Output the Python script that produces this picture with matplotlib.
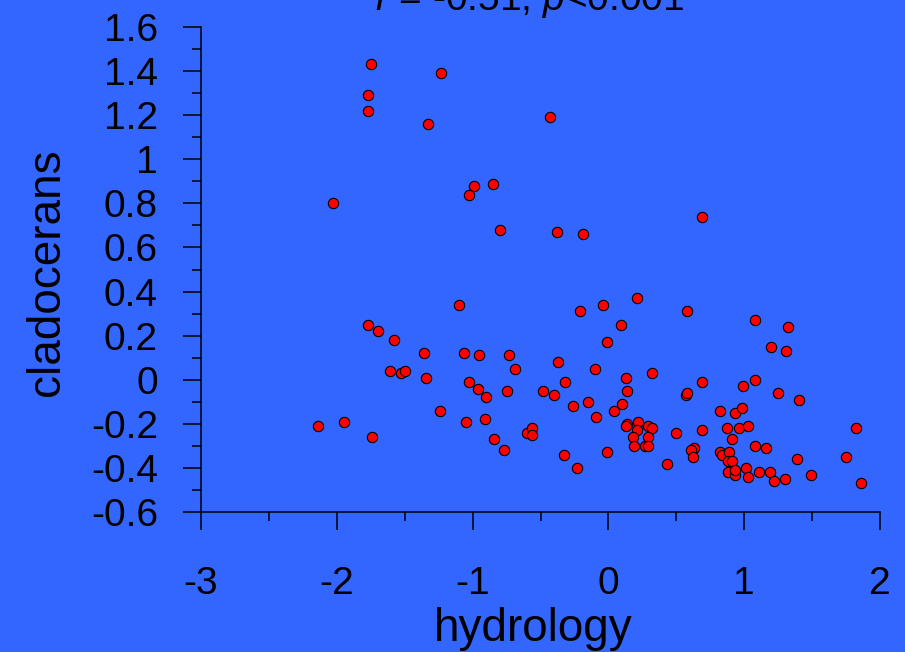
import numpy as np
import matplotlib
matplotlib.use("Agg")
import matplotlib.pyplot as plt
from matplotlib.ticker import MultipleLocator

plt.rcParams["font.family"] = ["Liberation Sans", "DejaVu Sans"]
plt.rcParams["mathtext.fontset"] = "custom"
plt.rcParams["mathtext.it"] = "Liberation Sans:italic"
plt.rcParams["mathtext.rm"] = "Liberation Sans"
plt.rcParams["axes.unicode_minus"] = False

# hydrology score vs cladoceran score
hydrology = [
    -1.75, -1.23, -1.77, -1.77, -1.33, -0.43, -0.99, -1.03, -0.85, -2.03,
    -0.80, -0.38, -0.19, 0.69,
    -1.10, -1.77, -1.70, -1.58, -1.36, -1.06, -0.95, -0.73, -0.69, -1.61,
    -1.53, -1.50, -1.34, -1.03, -0.96, -0.90, -0.75, -1.24, -1.05, -0.91,
    -2.14, -1.95, -1.74, -0.84, -0.77, -0.60, -0.56, -0.56, -0.48, -0.40,
    -0.37, -0.32, -0.26, -0.15, -0.10, -0.21, -0.04, 0.09, -0.01, -0.09,
    0.04, 0.10, -0.33, -0.23, -0.01, 0.13, 0.14, 0.14,
    0.21, 0.58, 1.08, 1.32, 1.20, 1.31, 0.32, 0.69, 0.57, 0.58,
    0.99, 1.08, 1.25, 1.40, 0.82, 0.93, 0.98, 0.13, 0.22, 0.29,
    0.32, 0.21, 0.18, 0.29, 0.19, 0.27, 0.29, 0.50, 0.69, 0.87,
    0.96, 1.03, 0.91, 0.43, 0.63, 0.61, 0.62, 0.82, 0.84, 0.89,
    0.88, 0.91, 0.88, 0.93, 0.93, 1.01, 1.03, 1.08, 1.16, 1.11,
    1.19, 1.22, 1.30, 1.39, 1.49, 1.82, 1.75, 1.86,
]
cladocerans = [
    1.43, 1.39, 1.29, 1.22, 1.16, 1.19, 0.88, 0.84, 0.89, 0.80,
    0.68, 0.67, 0.66, 0.74,
    0.34, 0.25, 0.22, 0.18, 0.12, 0.12, 0.11, 0.11, 0.05, 0.04,
    0.03, 0.04, 0.01, -0.01, -0.04, -0.08, -0.05, -0.14, -0.19, -0.18,
    -0.21, -0.19, -0.26, -0.27, -0.32, -0.24, -0.22, -0.25, -0.05, -0.07,
    0.08, -0.01, -0.12, -0.10, 0.05, 0.31, 0.34, 0.25, 0.17, -0.17,
    -0.14, -0.11, -0.34, -0.40, -0.33, 0.01, -0.05, -0.20,
    0.37, 0.31, 0.27, 0.24, 0.15, 0.13, 0.03, -0.01, -0.07, -0.06,
    -0.03, 0.00, -0.06, -0.09, -0.14, -0.15, -0.13, -0.21, -0.19, -0.21,
    -0.22, -0.23, -0.26, -0.26, -0.30, -0.30, -0.30, -0.24, -0.23, -0.22,
    -0.22, -0.21, -0.27, -0.38, -0.31, -0.32, -0.35, -0.33, -0.34, -0.33,
    -0.37, -0.37, -0.42, -0.43, -0.41, -0.40, -0.44, -0.30, -0.31, -0.42,
    -0.42, -0.46, -0.45, -0.36, -0.43, -0.22, -0.35, -0.47,
]
ytick_labels = ["-0.6", "-0.4", "-0.2", "0", "0.2", "0.4", "0.6", "0.8",
                "1", "1.2", "1.4", "1.6"]

bg = "#3366FF"
fig = plt.figure(figsize=(9.05, 6.52), dpi=100, facecolor=bg)
ax = fig.add_axes([0.2221, 0.2147, 0.7503, 0.7439])
ax.set_facecolor(bg)

ax.scatter(hydrology, cladocerans, s=55, color="#FF0000", edgecolors="black",
           linewidths=0.8, zorder=3, clip_on=False)

ax.set_xlim(-3, 2)
ax.set_ylim(-0.6, 1.6)
ax.xaxis.set_major_locator(MultipleLocator(1))
ax.xaxis.set_minor_locator(MultipleLocator(0.5))
ax.yaxis.set_minor_locator(MultipleLocator(0.1))
ax.set_yticks(np.linspace(-0.6, 1.6, len(ytick_labels)))
ax.set_yticklabels(ytick_labels)

for side in ("top", "right"):
    ax.spines[side].set_visible(False)
for side in ("left", "bottom"):
    ax.spines[side].set_linewidth(1.1)

ax.tick_params(which="major", direction="out", length=13, width=1.1,
               labelsize=28)
ax.tick_params(which="minor", direction="out", length=6.5, width=1.1)
ax.tick_params(axis="x", which="major", pad=26)
ax.tick_params(axis="y", which="major", pad=18)

fig.text(533 / 905, 1 - 641 / 652, "hydrology", fontsize=33,
         ha="center", va="baseline")
fig.text(47 / 905, 1 - 272 / 652, "cladocerans", fontsize=33,
         rotation=90, ha="center", va="center")
fig.text(530 / 905, 1 - 10 / 652, r"$r$ = -0.51, $p$<0.001", fontsize=28,
         ha="center", va="baseline")

plt.savefig("out.png", dpi=100, facecolor=bg)
